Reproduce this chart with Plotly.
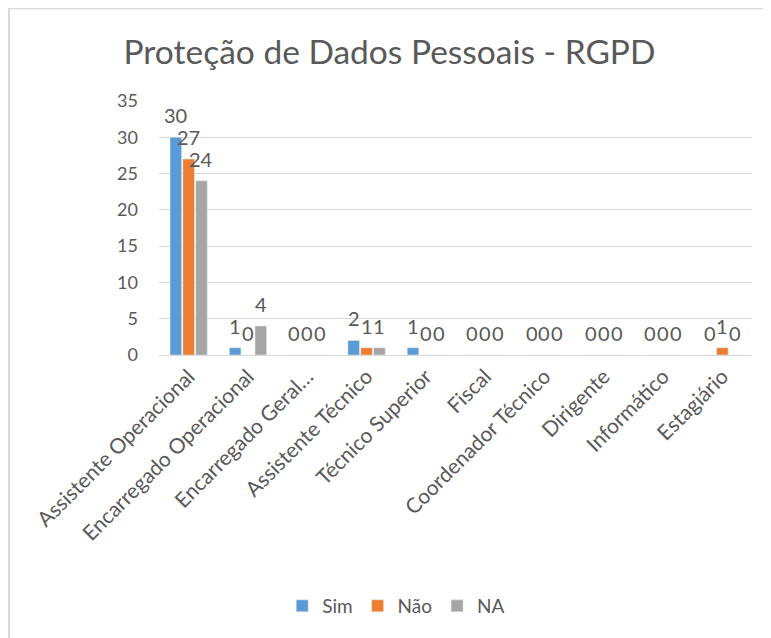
import plotly.graph_objects as go

categories = ["Assistente Operacional", "Encarregado Operacional", "Encarregado Geral…",
              "Assistente Técnico", "Técnico Superior", "Fiscal", "Coordenador Técnico",
              "Dirigente", "Informático", "Estagiário"]
sim = [30, 1, 0, 2, 1, 0, 0, 0, 0, 0]
nao = [27, 0, 0, 1, 0, 0, 0, 0, 0, 1]
na = [24, 4, 0, 1, 0, 0, 0, 0, 0, 0]
y_ticks = [0, 5, 10, 15, 20, 25, 30, 35]

FONT = "Lato"
TXT = "#595959"

# page body has an 8px margin: figure is sized to fit the 771x638 window
W, H = 763, 630
L, R, T, B = 151, 19, 93, 283
plot_w = W - L - R

BARGAP, GROUPGAP = 0.35, 0.1
series = [("Sim", sim, "#5B9BD5"), ("Não", nao, "#ED7D31"), ("NA", na, "#A5A5A5")]

fig = go.Figure()
for name, vals, col in series:
    fig.add_trace(go.Bar(x=categories, y=vals, name=name, marker_color=col))

# data labels above each bar (offset per series within group)
cat_px = plot_w / len(categories)
slot = (1 - BARGAP) / len(series) * cat_px
for si, (name, vals, col) in enumerate(series):
    dx = (si - (len(series) - 1) / 2) * slot
    for c, v in zip(categories, vals):
        fig.add_annotation(x=c, y=v, xref="x", yref="y", text=str(v), showarrow=False,
                           xshift=dx, yshift=8, yanchor="bottom",
                           font=dict(family=FONT, size=20, color=TXT))

fig.update_layout(
    width=W, height=H,
    margin=dict(l=L, r=R, t=T, b=B),
    paper_bgcolor="white", plot_bgcolor="white",
    barmode="group", bargap=BARGAP, bargroupgap=GROUPGAP,
    title=dict(text="Proteção de Dados Pessoais - RGPD", x=0.5, xanchor="center",
               xref="container", y=1 - 44 / H, yanchor="middle",
               font=dict(family=FONT, size=33.5, color=TXT)),
    font=dict(family=FONT, color=TXT),
    showlegend=True,
    legend=dict(orientation="h", x=0.40, xanchor="center", y=(347 - 598) / 254, yanchor="middle",
                font=dict(family=FONT, size=19, color=TXT), itemwidth=30,
                traceorder="normal"),
)
fig.update_yaxes(range=[0, 35], tickvals=y_ticks, showgrid=True, gridcolor="#D9D9D9",
                 gridwidth=1, zeroline=False, showline=False, ticks="",
                 tickfont=dict(family=FONT, size=18, color=TXT), ticklabelstandoff=20)
fig.update_xaxes(tickangle=-45, showgrid=False, showline=True, linecolor="#D9D9D9",
                 linewidth=1, ticks="", tickfont=dict(family=FONT, size=21, color=TXT))

# chart frame (left and top edges visible)
fig.add_shape(type="line", xref="paper", yref="paper",
              x0=(1 - L) / plot_w, x1=(1 - L) / plot_w,
              y0=-B / 254, y1=(254 + T) / 254,
              line=dict(color="#D9D9D9", width=2))
fig.add_shape(type="line", xref="paper", yref="paper",
              x0=(1 - L) / plot_w, x1=(W - L) / plot_w,
              y0=(254 + T - 0.5) / 254, y1=(254 + T - 0.5) / 254,
              line=dict(color="#D9D9D9", width=1.5))

fig.write_html("out.html")
